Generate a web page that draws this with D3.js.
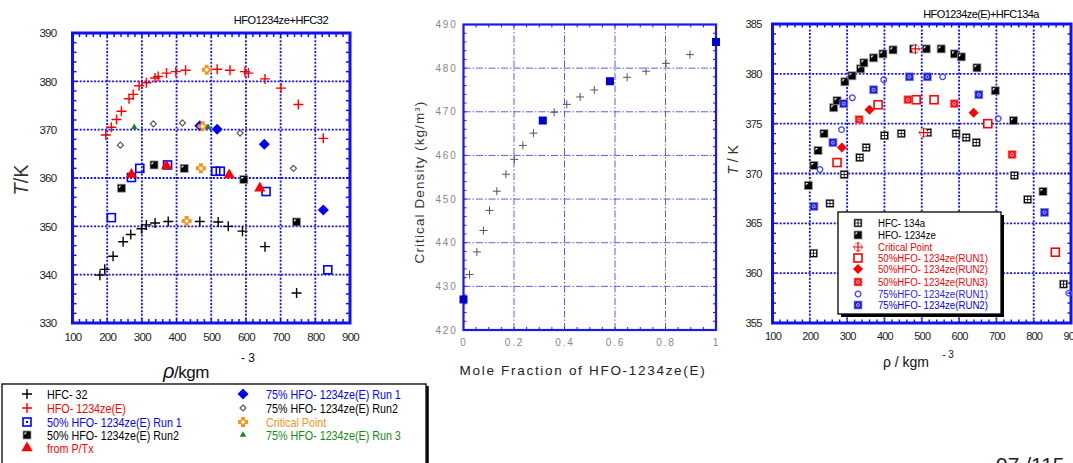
<!DOCTYPE html>
<html><head><meta charset="utf-8">
<script src="https://cdn.jsdelivr.net/npm/d3@7"></script>
<style>
body{margin:0;background:#fff;}
svg{display:block;font-family:"Liberation Sans",Arial,sans-serif;}
</style></head><body>
<svg id="c" width="1073" height="463"></svg>
<script>
// ---------- DATA: left panel (HFO1234ze + HFC32) ----------
const leftXTicks = [100,200,300,400,500,600,700,800,900];
const leftYTicks = [330,340,350,360,370,380,390];
const hfc32 = [[179,339.9],[193,341.1],[217,343.8],[246,346.8],[268,348.3],[299,349.5],[313,350.3],[338,350.7],[376,351.0],[467,351.0],[520,350.9],[549,350.0],[590,349.0],[655,345.8],[746,336.2]];
const hfo1234zeE = [[196,368.9],[212,370.5],[227,372.1],[241,373.8],[263,376.4],[275,377.3],[292,379.1],[313,379.7],[338,380.7],[347,381.0],[371,381.7],[398,382.0],[426,382.3],[517,382.5],[554,382.3],[597,382.0],[607,381.7],[655,380.5],[701,378.6],[751,375.2],[823,368.2]];
const mix50Run1 = [[212,351.8],[270,360.1],[294,362.0],[374,362.7],[513,361.4],[526,361.4],[658,357.2],[836,341.0]];
const mix50Run2 = [[241,357.9],[335,362.7],[422,362.0],[594,359.7],[746,350.9]];
const fromPTx = [[270,360.7],[371,362.5],[552,360.6],[640,357.9]];
const mix75Run1 = [[467,370.8],[517,370.1],[653,367.0],[823,353.4]];
const mix75Run2 = [[238,366.8],[333,371.2],[417,371.4],[583,369.3],[737,362.0]];
const critLeft = [[487,382.4],[475,370.7],[470,362.0],[429,351.1]];
const mix75Run3 = [[278,370.5],[491,370.5]];

// ---------- DATA: middle panel (critical density) ----------
const midXTicks = [0,0.2,0.4,0.6,0.8,1];
const midYTicks = [420,430,440,450,460,470,480,490];
const calcDensity = [[0.024,432.7],[0.053,437.9],[0.079,442.8],[0.103,447.4],[0.132,451.8],[0.168,455.7],[0.201,459.1],[0.235,462.3],[0.277,465.1],[0.359,469.9],[0.409,471.7],[0.462,473.4],[0.518,475.0],[0.648,477.9],[0.723,479.3],[0.802,481.1],[0.897,483.1]];
const measDensity = [[0,427],[0.314,468],[0.58,477],[1.0,486]];

// ---------- DATA: right panel (HFO1234ze(E) + HFC134a) ----------
const rightXTicks = [100,200,300,400,500,600,700,800,900];
const rightYTicks = [355,360,365,370,375,380,385];
const hfc134a = [[210,362.0],[254,367.0],[292,369.9],[334,371.6],[351,372.6],[400,373.8],[445,374.0],[516,374.1],[592,374.0],[619,373.6],[646,373.1],[748,369.8],[784,367.4],[880,358.9]];
const hfo1234ze = [[196,368.8],[211,370.8],[222,372.3],[238,374.0],[264,376.6],[273,377.3],[294,379.2],[313,379.8],[336,380.5],[345,381.1],[371,381.6],[396,382.0],[423,382.4],[478,382.5],[512,382.5],[552,382.5],[588,382.0],[606,381.7],[648,380.6],[697,378.3],[746,375.3],[825,368.2]];
const critRight = [[483,382.5],[505,374.1]];
const r50Run1 = [[273,371.1],[383,376.9],[485,377.4],[533,377.4],[677,375.0],[858,362.1]];
const r50Run2 = [[286,372.6],[360,376.4],[639,376.1]];
const r50Run3 = [[332,375.4],[463,377.4],[587,377.0],[742,371.9]];
const r75Run1 = [[227,370.4],[285,374.4],[314,377.6],[398,379.4],[556,379.7],[705,375.5],[894,358.0]];
const r75Run2 = [[211,366.7],[262,373.1],[291,377.0],[371,378.4],[467,379.7],[515,379.7],[653,377.9],[829,366.1]];

// ---------- legend labels ----------
const leftLegendCol1 = [["plusBlack","HFC- 32","#000"],["plusRed","HFO- 1234ze(E)","#f00"],["sqOpenBlueDot","50% HFO- 1234ze(E) Run 1","#00f"],["sqHalfBlack","50% HFO- 1234ze(E) Run2","#000"],["triRed","from P/Tx","#f00"]];
const leftLegendCol2 = [["diamondBlue","75% HFO- 1234ze(E) Run 1","#00f"],["diamondOpenSmall","75% HFO- 1234ze(E) Run2","#000"],["critOrange","Critical Point","#f7941d"],["triGreen","75% HFO- 1234ze(E) Run 3","#138a13"]];
const rightLegend = [["sqGridBlack","HFC- 134a","#000"],["sqHalfBlack","HFO- 1234ze","#000"],["critRed","Critical Point","#e00"],["sqOpenRed","50%HFO- 1234ze(RUN1)","#f00"],["diamondRed","50%HFO- 1234ze(RUN2)","#f00"],["sqDotRed","50%HFO- 1234ze(RUN3)","#f00"],["circOpenBlue","75%HFO- 1234ze(RUN1)","#22f"],["sqDotBlue","75%HFO- 1234ze(RUN2)","#00f"]];

const svg = d3.select("#c");
const BLUE = "#1010f0";

function diamondPath(r){ return `M0,${-r}L${r},0L0,${r}L${-r},0Z`; }

function marker(g, type){
  const sym = (t,s)=>d3.symbol().type(t).size(s)();
  switch(type){
    case "plusBlack": g.append("path").attr("d","M-5,0H5M0,-5V5").attr("stroke","#000").attr("stroke-width",1.4); break;
    case "plusRed": g.append("path").attr("d","M-5,0H5M0,-5V5").attr("stroke","#f00").attr("stroke-width",1.4); break;
    case "plusGray": g.append("path").attr("d","M-4,0H4M0,-4V4").attr("stroke","#555").attr("stroke-width",1); break;
    case "sqOpenBlue": g.append("rect").attr("x",-4).attr("y",-4).attr("width",8).attr("height",8).attr("fill","none").attr("stroke","#00f").attr("stroke-width",1.6); break;
    case "sqOpenBlueDot": g.append("rect").attr("x",-4).attr("y",-4).attr("width",8).attr("height",8).attr("fill","#fff").attr("stroke","#00f").attr("stroke-width",1.6);
      g.append("rect").attr("x",-1).attr("y",-1).attr("width",2).attr("height",2).attr("fill","#00f"); break;
    case "sqHalfBlack": g.append("rect").attr("x",-4).attr("y",-4).attr("width",8).attr("height",8).attr("fill","#000").attr("stroke","#999").attr("stroke-width",0.8);
      g.append("path").attr("d","M-2.5,-2.5h2.5l-2.5,2.5z").attr("fill","#fff"); break;
    case "triRed": g.append("path").attr("d",sym(d3.symbolTriangle,55)).attr("fill","#f00"); break;
    case "diamondBlue": g.append("path").attr("d",diamondPath(5.5)).attr("fill","#00f"); break;
    case "diamondOpenSmall": g.append("path").attr("d",diamondPath(3)).attr("fill","#fff").attr("stroke","#555").attr("stroke-width",1.2); break;
    case "critOrange": g.append("path").attr("d","M-5,0H5M0,-5V5").attr("stroke","#f7941d").attr("stroke-width",4);
      g.append("circle").attr("r",1.8).attr("fill","#fff"); break;
    case "triGreen": g.append("path").attr("d",sym(d3.symbolTriangle,18)).attr("fill","#138a13"); break;
    case "sqGridBlack": g.append("rect").attr("x",-4).attr("y",-4).attr("width",8).attr("height",8).attr("fill","#000").attr("stroke","#888").attr("stroke-width",0.6);
      [[-2.6,-2.6],[0.4,-2.6],[-2.6,0.4],[0.4,0.4]].forEach(p=>g.append("rect").attr("x",p[0]).attr("y",p[1]).attr("width",2.2).attr("height",2.2).attr("fill","#fff")); break;
    case "critRed": g.append("circle").attr("r",4).attr("fill","#fff").attr("stroke","#f33").attr("stroke-width",1).attr("stroke-dasharray","2,1");
      g.append("path").attr("d","M-5,0H5M0,-5V5").attr("stroke","#e00").attr("stroke-width",1.2); break;
    case "sqOpenRed": g.append("rect").attr("x",-4).attr("y",-4).attr("width",8).attr("height",8).attr("fill","#fff").attr("stroke","#f00").attr("stroke-width",1.6); break;
    case "diamondRed": g.append("path").attr("d",diamondPath(5)).attr("fill","#f00"); break;
    case "sqDotRed": g.append("rect").attr("x",-4).attr("y",-4).attr("width",8).attr("height",8).attr("fill","#f11").attr("stroke","#f88").attr("stroke-width",0.6);
      g.append("circle").attr("r",1.5).attr("fill","none").attr("stroke","#fcc").attr("stroke-width",0.8); break;
    case "circOpenBlue": g.append("circle").attr("r",2.8).attr("fill","none").attr("stroke","#44f").attr("stroke-width",1.3); break;
    case "sqDotBlue": g.append("rect").attr("x",-4).attr("y",-4).attr("width",8).attr("height",8).attr("fill","#22d").attr("stroke","#88f").attr("stroke-width",0.6);
      g.append("circle").attr("r",1.5).attr("fill","none").attr("stroke","#ccf").attr("stroke-width",0.8); break;
    case "sqBlue": g.append("rect").attr("x",-4).attr("y",-4).attr("width",8).attr("height",8).attr("fill","#00c"); break;
  }
}

function series(g, data, x, y, type){
  g.append("g").selectAll("g").data(data).join("g")
    .attr("transform", d=>`translate(${x(d[0])},${y(d[1])})`)
    .each(function(){ marker(d3.select(this), type); });
}

// condensed text (horizontal scale)
function ctext(g, x, y, str, fs, sx, color){
  return g.append("text").attr("transform",`translate(${x},${y}) scale(${sx},1)`).attr("font-size",fs).attr("fill",color||"#000").text(str);
}

function minorTicks(g, x, y, xs, ys, len, color, w){
  const [x0,x1]=x.range(), [y0,y1]=y.range();
  xs.forEach(v=>{ const px=x(v);
    g.append("line").attr("x1",px).attr("x2",px).attr("y1",y0).attr("y2",y0-len).attr("stroke",color).attr("stroke-width",w);
    g.append("line").attr("x1",px).attr("x2",px).attr("y1",y1).attr("y2",y1+len).attr("stroke",color).attr("stroke-width",w);});
  ys.forEach(v=>{ const py=y(v);
    g.append("line").attr("y1",py).attr("y2",py).attr("x1",x0).attr("x2",x0+len).attr("stroke",color).attr("stroke-width",w);
    g.append("line").attr("y1",py).attr("y2",py).attr("x1",x1).attr("x2",x1-len).attr("stroke",color).attr("stroke-width",w);});
}

function grid(g, x, y, xs, ys, color, w, dash){
  const [x0,x1]=x.range(), [y0,y1]=y.range();
  xs.forEach(v=>g.append("line").attr("x1",x(v)).attr("x2",x(v)).attr("y1",y0).attr("y2",y1).attr("stroke",color).attr("stroke-width",w).attr("stroke-dasharray",dash));
  ys.forEach(v=>g.append("line").attr("y1",y(v)).attr("y2",y(v)).attr("x1",x0).attr("x2",x1).attr("stroke",color).attr("stroke-width",w).attr("stroke-dasharray",dash));
}

function axes(g, x, y, xt, yt, opt){
  const ax = g.append("g").attr("transform",`translate(0,${y.range()[0]+opt.xOff})`)
    .call(d3.axisBottom(x).tickValues(xt).tickSize(0).tickFormat(opt.xf||d3.format("d")));
  ax.select(".domain").remove();
  ax.selectAll("text").attr("fill",opt.color).attr("font-size",opt.fs).attr("letter-spacing",opt.ls||0).attr("dy","0.71em").attr("y",0);
  const ay = g.append("g").attr("transform",`translate(${x.range()[0]-opt.yOff},0)`)
    .call(d3.axisLeft(y).tickValues(yt).tickSize(0).tickFormat(d3.format("d")));
  ay.select(".domain").remove();
  ay.selectAll("text").attr("fill",opt.color).attr("font-size",opt.fs).attr("letter-spacing",opt.ls||0).attr("x",0);
}

function range(a,b,s){ const r=[]; for(let v=a; v<=b+1e-9; v+=s) r.push(+v.toFixed(4)); return r; }

// ================= LEFT PANEL =================
{
  const x = d3.scaleLinear().domain([100,900]).range([72.5,350]);
  const y = d3.scaleLinear().domain([330,390]).range([323,33]);
  const g = svg.append("g");
  grid(g, x, y, [200,300,400,500,600,700,800], [340,350,360,370,380], BLUE, 1.8, "2,1.6");
  minorTicks(g, x, y, range(120,880,20), range(332,388,2), 4, BLUE, 1.5);
  g.append("rect").attr("x",72.5).attr("y",33).attr("width",277.5).attr("height",290).attr("fill","none").attr("stroke",BLUE).attr("stroke-width",3);
  axes(g, x, y, leftXTicks, leftYTicks, {xOff:10, yOff:16, color:"#222", fs:11.5, ls:-0.7});
  g.append("text").attr("x",281).attr("y",24).attr("text-anchor","middle").attr("font-size",11).attr("letter-spacing",-0.4).text("HFO1234ze+HFC32");
  g.append("text").attr("transform","translate(28,180) rotate(-90)").attr("text-anchor","middle").attr("font-size",20).attr("fill","#333")
    .html('<tspan font-style="italic">T</tspan>/K');
  g.append("text").attr("x",186).attr("y",378).attr("text-anchor","middle").attr("font-size",17).attr("letter-spacing",-0.5).attr("fill","#111")
    .html('<tspan font-style="italic" font-size="20">ρ</tspan>/kgm');
  g.append("text").attr("x",248).attr("y",362).attr("text-anchor","middle").attr("font-size",12).attr("fill","#111").text("- 3");
  const s = g.append("g");
  series(s, hfc32, x, y, "plusBlack");
  series(s, hfo1234zeE, x, y, "plusRed");
  series(s, mix75Run2, x, y, "diamondOpenSmall");
  series(s, mix50Run1, x, y, "sqOpenBlue");
  series(s, mix50Run2, x, y, "sqHalfBlack");
  series(s, fromPTx, x, y, "triRed");
  series(s, mix75Run1, x, y, "diamondBlue");
  series(s, critLeft, x, y, "critOrange");
  series(s, mix75Run3, x, y, "triGreen");

  // legend
  const L = svg.append("g");
  L.append("rect").attr("x",2).attr("y",384).attr("width",424).attr("height",90).attr("fill","#fff").attr("stroke","#000").attr("stroke-width",1.3);
  L.append("line").attr("x1",427.5).attr("x2",427.5).attr("y1",386).attr("y2",463).attr("stroke","#000").attr("stroke-width",2.5);
  const rowsY = [395,409,423,436,449];
  leftLegendCol1.forEach((d,i)=>{
    const gg = L.append("g").attr("transform",`translate(27,${rowsY[i]-1})`); marker(gg,d[0]);
    ctext(L, 47, rowsY[i]+4, d[1], 12.5, 0.86, d[2]);
  });
  leftLegendCol2.forEach((d,i)=>{
    const gg = L.append("g").attr("transform",`translate(243,${rowsY[i]-1})`); marker(gg,d[0]);
    ctext(L, 266, rowsY[i]+4, d[1], 12.5, 0.86, d[2]);
  });
}

// ================= MIDDLE PANEL =================
{
  const x = d3.scaleLinear().domain([0,1]).range([463.5,716]);
  const y = d3.scaleLinear().domain([420,490]).range([330,24.5]);
  const g = svg.append("g");
  grid(g, x, y, [0.2,0.4,0.6,0.8], [430,440,450,460,470,480], "#5c5cf0", 1, "7,2,1.5,2");
  minorTicks(g, x, y, range(0.05,0.95,0.05), range(422,488,2), 3, "#2222dd", 1);
  g.append("rect").attr("x",463.5).attr("y",24.5).attr("width",252.5).attr("height",305.5).attr("fill","none").attr("stroke","#1a1ae6").attr("stroke-width",2.2);
  axes(g, x, y, midXTicks, midYTicks, {xOff:9, yOff:6, color:"#888", fs:10, ls:1.8, xf:d3.format("")});
  g.append("text").attr("transform","translate(424,182) rotate(-90)").attr("text-anchor","middle").attr("font-size",13.5).attr("letter-spacing",1.1).attr("fill","#333")
    .html('Critical Density (kg/m<tspan baseline-shift="super" font-size="8">3</tspan>)');
  g.append("text").attr("x",583).attr("y",375).attr("text-anchor","middle").attr("font-size",13.5).attr("letter-spacing",1.7).attr("fill","#222").text("Mole Fraction of HFO-1234ze(E)");
  series(g, calcDensity, x, y, "plusGray");
  series(g, measDensity, x, y, "sqBlue");
}

// ================= RIGHT PANEL =================
{
  const x = d3.scaleLinear().domain([100,900]).range([772.5,1071]);
  const y = d3.scaleLinear().domain([355,385]).range([323,24]);
  const g = svg.append("g");
  grid(g, x, y, [200,300,400,500,600,700,800], [360,365,370,375,380], BLUE, 1.8, "2,1.6");
  minorTicks(g, x, y, range(120,880,20), range(356,384,1), 3.5, BLUE, 1.4);
  g.append("rect").attr("x",772.5).attr("y",24).attr("width",298.5).attr("height",299).attr("fill","none").attr("stroke",BLUE).attr("stroke-width",3);
  axes(g, x, y, rightXTicks, rightYTicks, {xOff:9, yOff:11, color:"#222", fs:11, ls:-0.8});
  g.append("text").attr("x",981).attr("y",18).attr("text-anchor","middle").attr("font-size",11).attr("letter-spacing",-0.6).text("HFO1234ze(E)+HFC134a");
  g.append("text").attr("transform","translate(738,160) rotate(-90)").attr("text-anchor","middle").attr("font-size",14).attr("fill","#333")
    .html('<tspan font-style="italic">T</tspan> / K');
  g.append("text").attr("x",906).attr("y",367).attr("text-anchor","middle").attr("font-size",14).attr("fill","#111").text("ρ / kgm");
  g.append("text").attr("x",948).attr("y",358).attr("text-anchor","middle").attr("font-size",10).attr("fill","#111").text("- 3");
  const s = g.append("g");
  series(s, hfc134a, x, y, "sqGridBlack");
  series(s, hfo1234ze, x, y, "sqHalfBlack");
  series(s, r75Run1, x, y, "circOpenBlue");
  series(s, r75Run2, x, y, "sqDotBlue");
  series(s, r50Run1, x, y, "sqOpenRed");
  series(s, r50Run2, x, y, "diamondRed");
  series(s, r50Run3, x, y, "sqDotRed");
  series(s, critRight, x, y, "critRed");

  const L = svg.append("g");
  L.append("rect").attr("x",841).attr("y",215).attr("width",163).attr("height",102).attr("fill","#000");
  L.append("rect").attr("x",838).attr("y",212).attr("width",163).attr("height",102).attr("fill","#fff").attr("stroke","#000").attr("stroke-width",1.3);
  const ry = [223,235,247,258,269,282,294,305];
  rightLegend.forEach((d,i)=>{
    const gg = L.append("g").attr("transform",`translate(858,${ry[i]})`); marker(gg,d[0]);
    ctext(L, 878, ry[i]+4, d[1], 11.5, 0.84, d[2]);
  });
}

// page number (cut off at bottom, as in the source image)
svg.append("text").attr("x",996).attr("y",472).attr("font-size",21).attr("fill","#222").text("97 /115");
</script>
</body></html>
